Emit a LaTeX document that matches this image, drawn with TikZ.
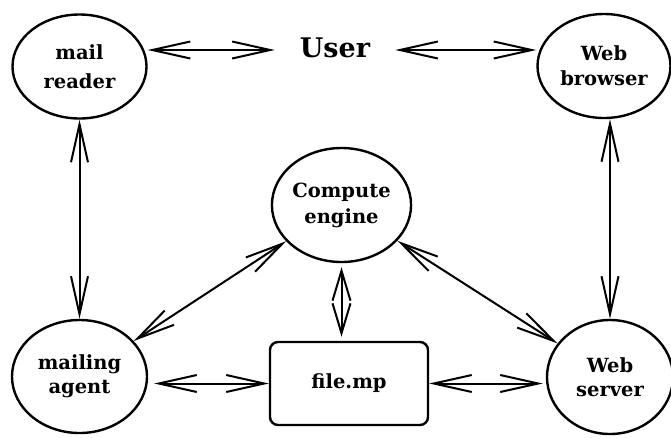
\documentclass[tikz,border=0pt]{standalone}
\usepackage{fontspec}
\setmainfont{DejaVu Serif}
\usetikzlibrary{arrows.meta,shapes.geometric}

\begin{document}
\begin{tikzpicture}[x=1pt,y=-1pt,
  agent/.style={ellipse,draw,line width=2.4pt,inner sep=0pt,align=center,
    font=\fontsize{19.5}{25}\selectfont\bfseries},
  filebox/.style={rectangle,draw,line width=2.4pt,rounded corners=8pt,inner sep=0pt,
    minimum width=158pt,minimum height=83pt,font=\fontsize{19.5}{25}\selectfont\bfseries},
  link/.style={line width=2pt,
    {Straight Barb[length=38pt,width=17pt]}-{Straight Barb[length=38pt,width=17pt]}},
  shortlink/.style={line width=2pt,
    {Straight Barb[length=30pt,width=18pt]}-{Straight Barb[length=30pt,width=18pt]}}]

\useasboundingbox (0,0) rectangle (671,437);

% the five programs and the shared file
\node[agent,minimum width=134pt,minimum height=104pt] (mr) at (79.5,66.5) {mail\\[4pt]reader};
\node[agent,minimum width=133pt,minimum height=104pt] (wb) at (604,66) {Web\\browser};
\node[agent,minimum width=133pt,minimum height=114pt] (ce) at (341.5,205) {Compute\\[1pt]engine};
\node[agent,minimum width=135pt,minimum height=113pt] (ma) at (79.5,376.5) {mailing\\[-1pt]agent};
\node[agent,minimum width=126pt,minimum height=114pt] (ws) at (610,377) {Web\\[-1pt]server};
\node[filebox] (fm) at (349,383.5) {file.mp};

% the user, with room left for the arrow ends on both sides
\node[inner xsep=25pt,inner ysep=0pt,text height=14pt,text depth=0pt,
  font=\fontsize{27}{32}\selectfont\bfseries] (user) at (335,50) {User};

% connections
\draw[link] (user.west -| mr.east) -- (user.west);
\draw[link] (user.east) -- (user.east -| wb.west);
\draw[link] (mr) -- (ma);
\draw[link] (ws.north |- wb.south) -- (ws.north);
\draw[link] (ma) -- (ce);
\draw[link] (ce) -- (ws);
\draw[shortlink,shorten <=4pt,shorten >=4pt] (ce.south) -- (ce.south |- fm.north);
\draw[link,shorten >=6pt] (fm.west) -- (fm.west -| ma.east);
\draw[link,shorten >=3pt] (fm.east) -- (fm.east -| ws.west);

\end{tikzpicture}
\end{document}
